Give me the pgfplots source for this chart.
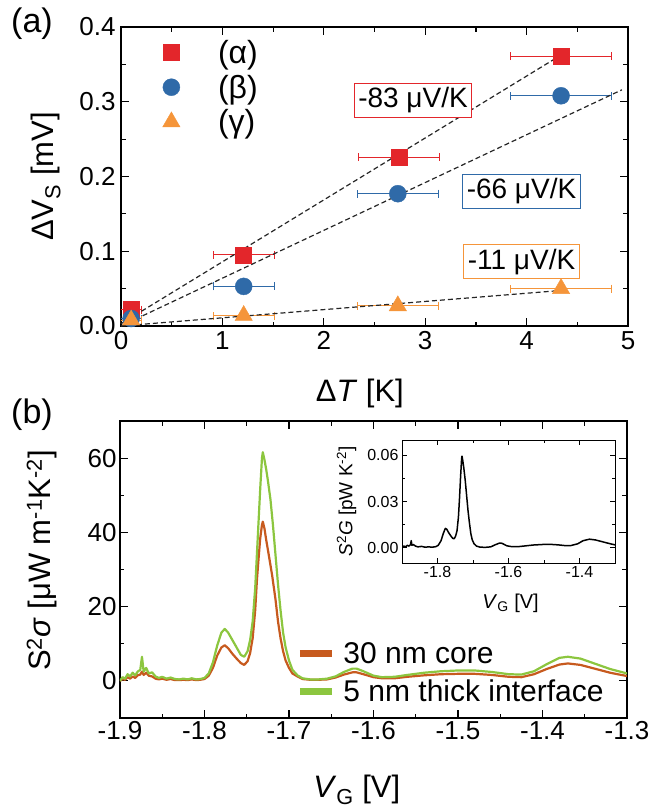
\documentclass[border=0pt]{standalone}
\usepackage{pgfplots}
\pgfplotsset{compat=1.18}
\usepackage{fontspec}
\setmainfont{Liberation Sans}
\newcommand\fs[1]{\fontsize{#1}{#1}\selectfont}
\definecolor{cred}{HTML}{E3262B}
\definecolor{cblue}{HTML}{2F6AA8}
\definecolor{corange}{HTML}{F5953A}
\definecolor{cgreen}{HTML}{8CC63F}
\definecolor{cbrown}{HTML}{C75A1E}
\pgfplotsset{
  mystyle/.style={
    scale only axis,
    axis line style={line width=1.4pt},
    every tick/.style={line width=1.2pt,black},
    major tick length=8pt, minor tick length=4.5pt,
    tick align=inside,
    /pgf/number format/assume math mode=true,
  }
}
\begin{document}
\begin{tikzpicture}[x=1pt,y=1pt]
\path[use as bounding box] (0,0) rectangle (654,-809);
\node[font=\fs{34}] at (32,-24) {(a)};
\node[font=\fs{34}] at (32,-415) {(b)};
% ---------------- panel (a)
\begin{axis}[mystyle,
  at={(121pt,-326pt)}, anchor=south west,
  width=507pt, height=299pt,
  xmin=0, xmax=5, ymin=0, ymax=0.4,
  xtick={0,1,2,3,4,5}, ytick={0,0.1,0.2,0.3,0.4},
  minor x tick num=1, minor y tick num=1,
  tick label style={font=\fs{26}},
  yticklabel style={xshift=-2pt, /pgf/number format/.cd, fixed, fixed zerofill, precision=1},
  xticklabel style={yshift=-2pt},
  xlabel={Δ\textit{T} [K]},
  xlabel style={font=\fs{31}, at={(axis description cs:0.471,-0.225)}, anchor=center},
  ylabel={ΔV\textsubscript{S} [mV]},
  ylabel style={font=\fs{31}, at={(axis description cs:-0.148,0.5)}, anchor=center},
  legend style={at={(axis cs:0.38,0.388)}, anchor=north west, draw=none, fill=none,
    font=\fs{32}, row sep=6pt,
    /tikz/every odd column/.append style={column sep=36pt}},
  legend cell align=left,
]
\addplot[only marks, mark=square*, mark size=8pt, color=cred,
  error bars/.cd, x dir=both, x explicit, error mark=|, error bar style={line width=1pt, cred}, error mark options={line width=1pt, mark size=4pt, cred}]
  coordinates {(0.1,0.022) +- (0.1,0) (1.21,0.095) +- (0.3,0) (2.74,0.226) +- (0.4,0) (4.34,0.361) +- (0.5,0)};
\addlegendentry{(α)}
\addplot[only marks, mark=*, mark size=8.5pt, color=cblue,
  error bars/.cd, x dir=both, x explicit, error mark=|, error bar style={line width=1pt, cblue}, error mark options={line width=1pt, mark size=4pt, cblue}]
  coordinates {(0.1,0.010) +- (0.1,0) (1.21,0.053) +- (0.3,0) (2.73,0.177) +- (0.4,0) (4.34,0.308) +- (0.5,0)};
\addlegendentry{(β)}
\addplot[only marks, mark=triangle*, mark size=10pt, color=corange,
  error bars/.cd, x dir=both, x explicit, error mark=|, error bar style={line width=1pt, corange}, error mark options={line width=1pt, mark size=4pt, corange}]
  coordinates {(0.1,0.008) +- (0.1,0) (1.21,0.014) +- (0.3,0) (2.73,0.027) +- (0.4,0) (4.34,0.050) +- (0.5,0)};
\addlegendentry{(γ)}
\addplot[forget plot, black!85, line width=1.2pt, dash pattern=on 5pt off 3pt] coordinates {(0,0.003) (4.37,0.365)};
\addplot[forget plot, black!85, line width=1.2pt, dash pattern=on 5pt off 3pt] coordinates {(0,0.0) (4.94,0.316)};
\addplot[forget plot, black!85, line width=1.2pt, dash pattern=on 5pt off 3pt] coordinates {(0,0.0) (4.38,0.048)};
\node[draw=cred, line width=1pt, inner sep=4pt, font=\fs{28}, fill=white] at (axis cs:2.88,0.302) {-83 μV/K};
\node[draw=cblue, line width=1pt, inner sep=4pt, font=\fs{28}, fill=white] at (axis cs:3.95,0.180) {-66 μV/K};
\node[draw=corange, line width=1pt, inner sep=4pt, font=\fs{28}, fill=white] at (axis cs:3.95,0.086) {-11 μV/K};
\end{axis}
% ---------------- panel (b)
\begin{axis}[mystyle,
  at={(120pt,-718pt)}, anchor=south west,
  width=507pt, height=297pt,
  xmin=-1.9, xmax=-1.3, ymin=-10, ymax=70,
  xtick={-1.9,-1.8,-1.7,-1.6,-1.5,-1.4,-1.3}, ytick={0,20,40,60},
  minor x tick num=1, minor y tick num=1,
  tick label style={font=\fs{26}},
  xticklabel style={/pgf/number format/.cd, fixed, fixed zerofill, precision=1},
  xlabel={\textit{V}\textsubscript{G} [V]},
  xlabel style={font=\fs{31}, at={(axis description cs:0.467,-0.242)}, anchor=center},
  ylabel={S\textsuperscript{2}\textit{σ} [μW m\textsuperscript{-1}K\textsuperscript{-2}]},
  ylabel style={font=\fs{31}, at={(axis description cs:-0.154,0.53)}, anchor=center},
  legend style={at={(axis cs:-1.695,11.5)}, anchor=north west, draw=none, fill=none,
    font=\fs{30}, row sep=11pt,
    /tikz/every odd column/.append style={column sep=6pt}},
  legend cell align=left,
  legend image code/.code={\draw[#1, line width=7pt] (0pt,0pt) -- (32pt,0pt);},
]
\addplot[cbrown, line width=2.2pt, line join=round] coordinates {
(-1.900,0.0) (-1.897,0.5) (-1.894,0.3) (-1.891,1.0) (-1.888,0.6) (-1.885,1.2) (-1.882,0.8) (-1.879,1.5)
(-1.876,1.7) (-1.874,2.5) (-1.872,1.6) (-1.869,2.2) (-1.866,1.4) (-1.862,1.2) (-1.858,0.6) (-1.854,0.4)
(-1.850,0.6) (-1.845,0.3) (-1.840,0.5) (-1.835,0.2) (-1.830,0.2) (-1.825,0.3) (-1.820,0.2) (-1.815,0.4)
(-1.810,0.2) (-1.805,0.3) (-1.800,0.5) (-1.795,1.4) (-1.790,3.5) (-1.785,6.8) (-1.780,9.0) (-1.776,9.6)
(-1.772,8.8) (-1.767,7.3) (-1.762,6.0) (-1.757,4.8) (-1.753,4.3) (-1.749,5.3) (-1.746,7.5) (-1.743,11.5)
(-1.740,19.0) (-1.738,27.0) (-1.736,33.0) (-1.734,38.5) (-1.732,42.0) (-1.731,42.9) (-1.729,41.0)
(-1.727,38.0) (-1.724,34.0) (-1.720,28.5) (-1.716,22.0) (-1.713,16.0) (-1.710,11.5) (-1.707,8.0)
(-1.704,5.5) (-1.700,3.5) (-1.696,2.0) (-1.690,1.2) (-1.684,0.5) (-1.675,0.3) (-1.665,0.3) (-1.655,0.4)
(-1.645,0.9) (-1.635,1.7) (-1.625,2.3) (-1.620,2.3) (-1.612,1.8) (-1.600,1.0) (-1.590,0.7) (-1.575,0.7)
(-1.560,1.1) (-1.540,1.5) (-1.520,1.8) (-1.500,1.9) (-1.480,1.9) (-1.460,1.6) (-1.440,1.1) (-1.425,1.0)
(-1.410,1.8) (-1.395,3.2) (-1.380,4.4) (-1.370,4.7) (-1.355,4.3) (-1.340,3.4) (-1.320,2.2) (-1.300,1.3)};
\addlegendentry{30 nm core}
\addplot[cgreen, line width=2.2pt, line join=round] coordinates {
(-1.900,0.0) (-1.897,1.0) (-1.894,0.6) (-1.891,1.8) (-1.888,1.2) (-1.885,2.2) (-1.882,1.5) (-1.879,2.5)
(-1.876,3.0) (-1.874,6.5) (-1.872,2.5) (-1.869,3.5) (-1.866,2.0) (-1.862,2.3) (-1.858,1.2) (-1.854,0.8)
(-1.850,1.1) (-1.845,0.6) (-1.840,0.9) (-1.835,0.5) (-1.830,0.4) (-1.825,0.6) (-1.820,0.4) (-1.815,0.7)
(-1.810,0.4) (-1.805,0.5) (-1.800,0.8) (-1.795,2.0) (-1.790,5.0) (-1.785,9.5) (-1.780,13.0) (-1.776,14.0)
(-1.772,13.0) (-1.767,11.0) (-1.762,9.0) (-1.757,7.0) (-1.753,6.5) (-1.749,8.0) (-1.746,11.0) (-1.743,16.0)
(-1.740,25.0) (-1.738,34.0) (-1.736,43.0) (-1.734,52.0) (-1.732,60.0) (-1.731,61.6) (-1.729,59.5)
(-1.727,57.0) (-1.725,54.0) (-1.722,49.0) (-1.719,42.0) (-1.716,34.0) (-1.713,26.0) (-1.710,19.0)
(-1.707,13.0) (-1.704,9.0) (-1.700,5.5) (-1.696,3.0) (-1.690,1.5) (-1.684,0.7) (-1.675,0.4) (-1.665,0.4)
(-1.655,0.6) (-1.645,1.2) (-1.635,2.4) (-1.625,3.3) (-1.620,3.3) (-1.612,2.6) (-1.600,1.4) (-1.590,1.0)
(-1.575,1.1) (-1.560,1.6) (-1.540,2.2) (-1.520,2.6) (-1.500,2.8) (-1.480,2.8) (-1.460,2.4) (-1.440,1.8)
(-1.425,1.7) (-1.410,2.6) (-1.395,4.5) (-1.380,6.2) (-1.370,6.5) (-1.355,6.0) (-1.340,4.8) (-1.320,3.2)
(-1.300,2.0)};
\addlegendentry{5 nm thick interface}
\end{axis}
% ---------------- inset
\begin{axis}[mystyle,
  at={(402pt,-563pt)}, anchor=south west,
  width=213pt, height=123pt,
  axis line style={line width=1pt},
  every tick/.style={line width=0.8pt,black},
  major tick length=5pt, minor tick length=3pt,
  xmin=-1.9, xmax=-1.3, ymin=-0.01, ymax=0.07,
  xtick={-1.8,-1.6,-1.4}, ytick={0,0.03,0.06},
  minor x tick num=1, minor y tick num=1,
  tick label style={font=\fs{16}},
  xticklabel style={/pgf/number format/.cd, fixed, fixed zerofill, precision=1},
  yticklabel style={/pgf/number format/.cd, fixed, fixed zerofill, precision=2},
  scaled y ticks=false,
  xlabel={\textit{V}\textsubscript{G} [V]},
  xlabel style={font=\fs{20}, at={(axis description cs:0.51,-0.33)}, anchor=center},
  ylabel={\textit{S}\textsuperscript{2}\textit{G} [pW K\textsuperscript{-2}]},
  ylabel style={font=\fs{19}, at={(axis description cs:-0.26,0.5)}, anchor=center},
]
\addplot[black, line width=1.5pt, line join=round] coordinates {
(-1.900,0.000) (-1.895,0.001) (-1.890,0.0005) (-1.885,0.0015) (-1.880,0.001) (-1.876,0.002) (-1.874,0.0045)
(-1.872,0.0015) (-1.868,0.002) (-1.862,0.001) (-1.855,0.0005) (-1.845,0.0008) (-1.835,0.0003) (-1.825,0.0005)
(-1.815,0.0003) (-1.805,0.0006) (-1.798,0.0015) (-1.790,0.0045) (-1.784,0.009) (-1.778,0.0125) (-1.774,0.012)
(-1.768,0.0095) (-1.762,0.0075) (-1.757,0.006) (-1.753,0.0058) (-1.749,0.0075) (-1.745,0.011) (-1.741,0.02)
(-1.738,0.032) (-1.735,0.046) (-1.732,0.058) (-1.731,0.0595) (-1.729,0.057) (-1.726,0.052) (-1.722,0.044)
(-1.718,0.034) (-1.714,0.024) (-1.710,0.016) (-1.706,0.009) (-1.702,0.005) (-1.697,0.0025) (-1.690,0.001)
(-1.680,0.0003) (-1.665,0.0002) (-1.650,0.0005) (-1.638,0.0018) (-1.625,0.003) (-1.618,0.0028) (-1.605,0.0012)
(-1.590,0.0006) (-1.570,0.0007) (-1.550,0.0012) (-1.530,0.0017) (-1.500,0.0021) (-1.480,0.0021) (-1.460,0.0018)
(-1.440,0.0013) (-1.425,0.0013) (-1.405,0.0025) (-1.390,0.0045) (-1.372,0.0055) (-1.355,0.005) (-1.335,0.0038)
(-1.315,0.0026) (-1.300,0.0018)};
\end{axis}
\end{tikzpicture}
\end{document}
